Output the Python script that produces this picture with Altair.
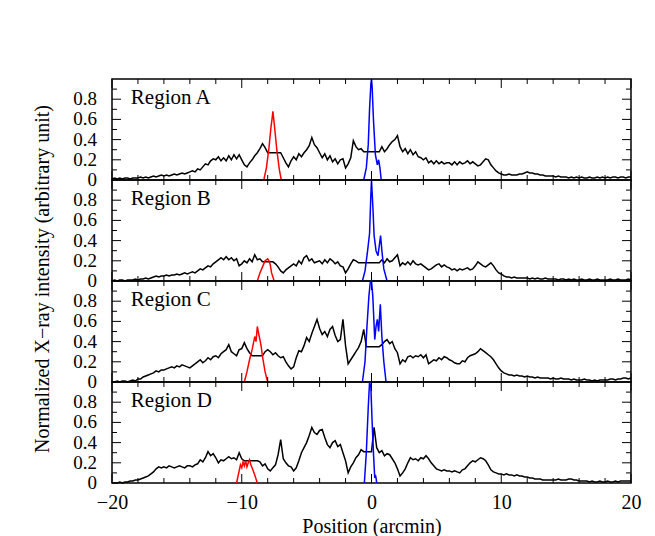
import altair as alt
import pandas as pd

FONT = "Liberation Serif"

# ---------------- data ----------------
# Diffuse profiles: bins from -20 to +20 arcmin, step 0.2 arcmin
X_START = -20.0
X_STEP = 0.2

profile_A = [
    0.01, 0.02, 0.01, 0.02, 0.01, 0.02, 0.02, 0.01, 0.02, 0.02,
    0.02, 0.03, 0.02, 0.03, 0.02, 0.03, 0.04, 0.03, 0.04, 0.05,
    0.04, 0.05, 0.04, 0.05, 0.06, 0.05, 0.06, 0.07, 0.06, 0.07,
    0.08, 0.09, 0.08, 0.11, 0.10, 0.13, 0.16, 0.15, 0.19, 0.21,
    0.20, 0.23, 0.19, 0.22, 0.19, 0.24, 0.20, 0.25, 0.21, 0.25,
    0.20, 0.15, 0.13, 0.17, 0.20, 0.24, 0.27, 0.31, 0.36, 0.32,
    0.27, 0.27, 0.27, 0.27, 0.27, 0.27, 0.22, 0.17, 0.13, 0.19,
    0.23, 0.20, 0.26, 0.23, 0.27, 0.30, 0.34, 0.42, 0.35, 0.32,
    0.27, 0.22, 0.26, 0.20, 0.24, 0.18, 0.21, 0.16, 0.20, 0.21,
    0.12, 0.16, 0.22, 0.39, 0.33, 0.30, 0.31, 0.28, 0.28, 0.28,
    0.28, 0.28, 0.28, 0.28, 0.33, 0.28, 0.31, 0.35, 0.38, 0.40,
    0.44, 0.33, 0.28, 0.31, 0.26, 0.30, 0.25, 0.28, 0.23, 0.22,
    0.20, 0.22, 0.17, 0.19, 0.16, 0.19, 0.16, 0.18, 0.16, 0.17,
    0.17, 0.15, 0.18, 0.15, 0.18, 0.16, 0.17, 0.19, 0.16, 0.18,
    0.16, 0.14, 0.15, 0.18, 0.21, 0.20, 0.15, 0.12, 0.09, 0.07,
    0.06, 0.05, 0.05, 0.06, 0.05, 0.05, 0.05, 0.06, 0.06, 0.07,
    0.08, 0.07, 0.07, 0.06, 0.06, 0.05, 0.05, 0.04, 0.04, 0.04,
    0.04, 0.03, 0.04, 0.03, 0.03, 0.03, 0.02, 0.03, 0.02, 0.03,
    0.02, 0.03, 0.02, 0.02, 0.03, 0.02, 0.02, 0.03, 0.02, 0.03,
    0.02, 0.03, 0.02, 0.03, 0.03, 0.02, 0.03, 0.03, 0.02, 0.03,
    0.03,
]

profile_B = [
    0.00, 0.01, 0.00, 0.01, 0.01, 0.00, 0.01, 0.01, 0.01, 0.02,
    0.01, 0.02, 0.02, 0.03, 0.02, 0.03, 0.04, 0.05, 0.04, 0.05,
    0.05, 0.06, 0.05, 0.06, 0.06, 0.07, 0.06, 0.07, 0.08, 0.07,
    0.08, 0.09, 0.08, 0.10, 0.12, 0.11, 0.13, 0.15, 0.14, 0.17,
    0.19, 0.21, 0.23, 0.21, 0.24, 0.21, 0.23, 0.20, 0.22, 0.15,
    0.17, 0.20, 0.18, 0.22, 0.19, 0.26, 0.21, 0.22, 0.19, 0.19,
    0.19, 0.19, 0.19, 0.17, 0.14, 0.10, 0.08, 0.11, 0.13, 0.15,
    0.17, 0.15, 0.20, 0.17, 0.23, 0.25, 0.20, 0.22, 0.18, 0.19,
    0.20, 0.17, 0.21, 0.18, 0.22, 0.20, 0.17, 0.19, 0.15, 0.14,
    0.08, 0.12, 0.17, 0.21, 0.20, 0.18, 0.18, 0.18, 0.18, 0.18,
    0.18, 0.18, 0.18, 0.18, 0.21, 0.18, 0.22, 0.19, 0.20, 0.23,
    0.26, 0.15, 0.18, 0.16, 0.19, 0.16, 0.20, 0.17, 0.16, 0.17,
    0.15, 0.13, 0.11, 0.12, 0.14, 0.16, 0.17, 0.14, 0.16, 0.14,
    0.13, 0.11, 0.12, 0.10, 0.12, 0.11, 0.12, 0.13, 0.11, 0.12,
    0.15, 0.19, 0.17, 0.15, 0.14, 0.16, 0.18, 0.15, 0.11, 0.08,
    0.07, 0.05, 0.04, 0.04, 0.03, 0.04, 0.03, 0.03, 0.03, 0.03,
    0.03, 0.02, 0.03, 0.02, 0.03, 0.02, 0.02, 0.03, 0.02, 0.02,
    0.02, 0.02, 0.01, 0.02, 0.02, 0.01, 0.02, 0.01, 0.02, 0.01,
    0.01, 0.02, 0.01, 0.01, 0.02, 0.01, 0.01, 0.02, 0.01, 0.01,
    0.01, 0.01, 0.02, 0.01, 0.01, 0.02, 0.01, 0.01, 0.01, 0.02,
    0.01,
]

profile_C = [
    0.00, 0.00, 0.01, 0.00, 0.01, 0.01, 0.00, 0.01, 0.02, 0.01,
    0.03, 0.03, 0.05, 0.06, 0.07, 0.08, 0.09, 0.11, 0.10, 0.12,
    0.12, 0.13, 0.14, 0.15, 0.14, 0.16, 0.15, 0.17, 0.16, 0.15,
    0.14, 0.16, 0.18, 0.20, 0.22, 0.19, 0.21, 0.24, 0.22, 0.25,
    0.26, 0.24, 0.28, 0.30, 0.32, 0.37, 0.30, 0.28, 0.26, 0.32,
    0.33, 0.39, 0.33, 0.29, 0.26, 0.26, 0.26, 0.26, 0.26, 0.30,
    0.32, 0.30, 0.27, 0.29, 0.26, 0.24, 0.25, 0.20, 0.16, 0.13,
    0.15, 0.24, 0.31, 0.30, 0.36, 0.44, 0.40, 0.48, 0.55, 0.62,
    0.53, 0.47, 0.50, 0.45, 0.52, 0.55, 0.46, 0.40, 0.42, 0.62,
    0.36, 0.18, 0.22, 0.26, 0.30, 0.34, 0.40, 0.52, 0.35, 0.35,
    0.35, 0.35, 0.35, 0.35, 0.37, 0.40, 0.42, 0.38, 0.40, 0.33,
    0.29, 0.18, 0.22, 0.20, 0.25, 0.26, 0.24, 0.26, 0.25, 0.27,
    0.24, 0.27, 0.18, 0.20, 0.22, 0.21, 0.24, 0.22, 0.25, 0.24,
    0.22, 0.21, 0.19, 0.18, 0.18, 0.21, 0.20, 0.24, 0.26, 0.27,
    0.28, 0.30, 0.33, 0.31, 0.29, 0.27, 0.25, 0.22, 0.18, 0.14,
    0.11, 0.09, 0.08, 0.07, 0.07, 0.06, 0.07, 0.06, 0.06, 0.05,
    0.06, 0.05, 0.05, 0.04, 0.05, 0.04, 0.04, 0.04, 0.04, 0.03,
    0.04, 0.03, 0.03, 0.04, 0.03, 0.03, 0.03, 0.02, 0.03, 0.02,
    0.02, 0.02, 0.03, 0.02, 0.02, 0.01, 0.02, 0.01, 0.02, 0.02,
    0.02, 0.02, 0.03, 0.03, 0.02, 0.03, 0.03, 0.04, 0.04, 0.03,
    0.04,
]

profile_D = [
    0.00, 0.00, 0.00, 0.01, 0.00, 0.01, 0.01, 0.02, 0.02, 0.03,
    0.03, 0.04, 0.05, 0.06, 0.07, 0.09, 0.11, 0.14, 0.16, 0.15,
    0.16, 0.15, 0.17, 0.16, 0.15, 0.16, 0.17, 0.16, 0.15, 0.17,
    0.17, 0.16, 0.18, 0.19, 0.23, 0.21, 0.25, 0.31, 0.27, 0.29,
    0.25, 0.20, 0.23, 0.22, 0.24, 0.26, 0.24, 0.25, 0.23, 0.30,
    0.24, 0.22, 0.22, 0.22, 0.22, 0.22, 0.22, 0.21, 0.17, 0.19,
    0.14, 0.12, 0.15, 0.18, 0.28, 0.43, 0.24, 0.20, 0.17, 0.16,
    0.12, 0.15, 0.22, 0.30, 0.35, 0.40, 0.47, 0.55, 0.50, 0.48,
    0.52, 0.53, 0.45, 0.38, 0.35, 0.40, 0.42, 0.36, 0.38, 0.30,
    0.22, 0.10, 0.16, 0.20, 0.25, 0.28, 0.33, 0.31, 0.31, 0.31,
    0.31, 0.55, 0.35, 0.30, 0.32, 0.27, 0.29, 0.28, 0.24, 0.20,
    0.14, 0.07, 0.10, 0.14, 0.20, 0.25, 0.23, 0.24, 0.22, 0.25,
    0.24, 0.27, 0.24, 0.20, 0.17, 0.14, 0.13, 0.12, 0.13, 0.12,
    0.12, 0.11, 0.12, 0.11, 0.10, 0.13, 0.14, 0.17, 0.20, 0.22,
    0.21, 0.23, 0.25, 0.24, 0.22, 0.18, 0.13, 0.11, 0.10, 0.09,
    0.09, 0.08, 0.09, 0.08, 0.08, 0.07, 0.08, 0.07, 0.07, 0.06,
    0.06, 0.05, 0.05, 0.04, 0.04, 0.04, 0.03, 0.03, 0.03, 0.03,
    0.03, 0.03, 0.04, 0.03, 0.03, 0.03, 0.04, 0.04, 0.03, 0.03,
    0.02, 0.02, 0.02, 0.02, 0.01, 0.02, 0.01, 0.01, 0.02, 0.01,
    0.01, 0.02, 0.01, 0.01, 0.02, 0.01, 0.02, 0.02, 0.02, 0.02,
    0.02,
]

# Point-source profiles (red: off-axis source, blue: central source)
red_A_x = [-8.3, -8.1, -7.9, -7.75, -7.65, -7.6, -7.55, -7.45, -7.3, -7.1, -6.95]
red_A_y = [0.0, 0.12, 0.32, 0.52, 0.62, 0.68, 0.62, 0.50, 0.30, 0.10, 0.0]
blue_A_x = [-0.6, -0.4, -0.25, -0.15, -0.05, 0.0, 0.05, 0.15, 0.3, 0.45, 0.55, 0.65, 0.75]
blue_A_y = [0.0, 0.12, 0.35, 0.70, 0.95, 1.0, 0.92, 0.60, 0.25, 0.15, 0.20, 0.12, 0.0]

red_B_x = [-8.8, -8.6, -8.4, -8.2, -8.0, -7.9, -7.8, -7.7, -7.5]
red_B_y = [0.0, 0.08, 0.14, 0.20, 0.22, 0.20, 0.16, 0.08, 0.0]
blue_B_x = [-0.7, -0.5, -0.3, -0.15, -0.05, 0.0, 0.1, 0.2, 0.35, 0.5, 0.6, 0.7, 0.8, 0.95, 1.2]
blue_B_y = [0.0, 0.10, 0.30, 0.47, 0.85, 1.0, 0.75, 0.45, 0.30, 0.25, 0.35, 0.45, 0.30, 0.12, 0.0]

red_C_x = [-9.8, -9.6, -9.4, -9.2, -9.0, -8.9, -8.8, -8.7, -8.6, -8.5, -8.4, -8.2, -8.0]
red_C_y = [0.0, 0.10, 0.22, 0.32, 0.45, 0.40, 0.55, 0.48, 0.42, 0.35, 0.25, 0.10, 0.0]
blue_C_x = [-0.7, -0.5, -0.35, -0.2, -0.1, 0.0, 0.1, 0.25, 0.35, 0.45, 0.55, 0.68, 0.8, 0.95, 1.12]
blue_C_y = [0.0, 0.20, 0.55, 0.85, 0.98, 1.0, 0.85, 0.42, 0.55, 0.62, 0.50, 0.77, 0.45, 0.20, 0.0]

red_D_x = [-10.4, -10.2, -10.1, -10.0, -9.9, -9.8, -9.7, -9.6, -9.5, -9.4, -9.3, -9.2, -9.0, -8.8]
red_D_y = [0.0, 0.12, 0.18, 0.15, 0.21, 0.17, 0.22, 0.16, 0.20, 0.23, 0.18, 0.15, 0.08, 0.0]
blue_D_x = [-0.55, -0.4, -0.25, -0.15, -0.05, 0.05, 0.15, 0.25, 0.3, 0.35, 0.4]
blue_D_y = [0.0, 0.30, 0.75, 1.0, 0.95, 0.60, 0.30, 0.05, 0.08, 0.05, 0.0]

region_names = ["Region A", "Region B", "Region C", "Region D"]

x_tick_labels = [-20, -10, 0, 10, 20]
y_tick_values = [0, 0.2, 0.4, 0.6, 0.8]
y_tick_text = ["0", "0.2", "0.4", "0.6", "0.8"]
x_minor = [-18, -16, -14, -12, -8, -6, -4, -2, 2, 4, 6, 8, 12, 14, 16, 18]
y_major = [0.2, 0.4, 0.6, 0.8]
y_minor = [0.1, 0.3, 0.5, 0.7, 0.9]

y_title = "Normalized X\u2212ray intensity (arbitrary unit)"
x_title = "Position (arcmin)"

# ---------------- layout ----------------
W, H = 519, 101
XMIN, XMAX = -20, 20
MAJ_PX, MIN_PX = 9, 5
ux = (XMAX - XMIN) / W   # data units per pixel in x
uy = 1.0 / H             # data units per pixel in y

XS = alt.Scale(domain=[XMIN, XMAX], nice=False, zero=False)
YS = alt.Scale(domain=[0, 1], nice=False, zero=False)


def tick_frame():
    rows = []
    for v in x_tick_labels:
        rows.append(dict(x=v, x2=v, y=0, y2=MAJ_PX * uy))
        rows.append(dict(x=v, x2=v, y=1 - MAJ_PX * uy, y2=1))
    for v in x_minor:
        rows.append(dict(x=v, x2=v, y=0, y2=MIN_PX * uy))
        rows.append(dict(x=v, x2=v, y=1 - MIN_PX * uy, y2=1))
    for v in y_major:
        rows.append(dict(x=XMIN, x2=XMIN + MAJ_PX * ux, y=v, y2=v))
        rows.append(dict(x=XMAX - MAJ_PX * ux, x2=XMAX, y=v, y2=v))
    for v in y_minor:
        rows.append(dict(x=XMIN, x2=XMIN + MIN_PX * ux, y=v, y2=v))
        rows.append(dict(x=XMAX - MIN_PX * ux, x2=XMAX, y=v, y2=v))
    return pd.DataFrame(rows)


TICKS = tick_frame()
YLAB = pd.DataFrame({"v": y_tick_values, "t": y_tick_text})

# invisible y axis (labels are drawn as text marks so that none is dropped)
YAXIS = alt.Axis(values=y_tick_values, labels=False, ticks=False, domain=False,
                 grid=False, title=None)


def panel(profile, rx, ry, bx, by, name, bottom, with_ytitle):
    xs = [round(X_START + X_STEP * i, 2) for i in range(len(profile))]
    df_black = pd.DataFrame({"x": xs, "y": profile})
    df_red = pd.DataFrame({"x": rx, "y": ry})
    df_blue = pd.DataFrame({"x": bx, "y": by})

    if bottom:
        xaxis = alt.Axis(values=x_tick_labels, ticks=False, domain=False, grid=False,
                         labelPadding=9, title=x_title, titlePadding=4, format="d",
                         labelFont=FONT, labelFontSize=20, labelColor="black",
                         labelOverlap=False, labelFlush=False,
                         titleFont=FONT, titleFontSize=20, titleFontWeight="normal",
                         titleColor="black")
    else:
        xaxis = None

    def X(f="x"):
        return alt.X(f"{f}:Q", scale=XS, axis=xaxis)

    def Y(f="y"):
        return alt.Y(f"{f}:Q", scale=YS, axis=YAXIS)

    black = alt.Chart(df_black).mark_line(color="black", strokeWidth=1.5).encode(
        x=X(), y=Y(), order="x:Q")
    red = alt.Chart(df_red).mark_line(color="#ff0000", strokeWidth=1.5).encode(
        x=X(), y=Y(), order="x:Q")
    blue = alt.Chart(df_blue).mark_line(color="#0000ff", strokeWidth=1.5).encode(
        x=X(), y=Y(), order="x:Q")
    ticks = alt.Chart(TICKS).mark_rule(color="black", strokeWidth=1).encode(
        x=X(), x2="x2:Q", y=Y(), y2="y2:Q")
    label = alt.Chart(pd.DataFrame({"label": [name], "lx": [-18.55], "ly": [0.81]})).mark_text(
        align="left", baseline="middle", font=FONT, fontSize=21, color="black"
    ).encode(x=X("lx"), y=Y("ly"), text="label:N")
    ylabels = alt.Chart(YLAB).mark_text(
        align="right", baseline="middle", font=FONT, fontSize=19, color="black", dx=-15
    ).encode(x=alt.value(0), y=Y("v"), text="t:N")

    layers = [black, red, blue, ticks, label, ylabels]
    if with_ytitle:
        ytl = alt.Chart(pd.DataFrame({"t": [y_title]})).mark_text(
            angle=270, align="center", baseline="middle", font=FONT, fontSize=20, color="black"
        ).encode(x=alt.value(-69), y=alt.value(H - 2), text="t:N")
        layers.append(ytl)
    return alt.layer(*layers).properties(width=W, height=H)


pA = panel(profile_A, red_A_x, red_A_y, blue_A_x, blue_A_y, region_names[0], False, False)
pB = panel(profile_B, red_B_x, red_B_y, blue_B_x, blue_B_y, region_names[1], False, True)
pC = panel(profile_C, red_C_x, red_C_y, blue_C_x, blue_C_y, region_names[2], False, False)
pD = panel(profile_D, red_D_x, red_D_y, blue_D_x, blue_D_y, region_names[3], True, False)

chart = alt.vconcat(pA, pB, pC, pD, spacing=0, bounds="flush").properties(
    padding={"left": 24, "top": 67, "right": 5, "bottom": 5},
    background="white",
).configure_view(
    stroke="black", strokeWidth=1.5
)

chart.save("out.html", embed_options={"renderer": "svg", "actions": False})
